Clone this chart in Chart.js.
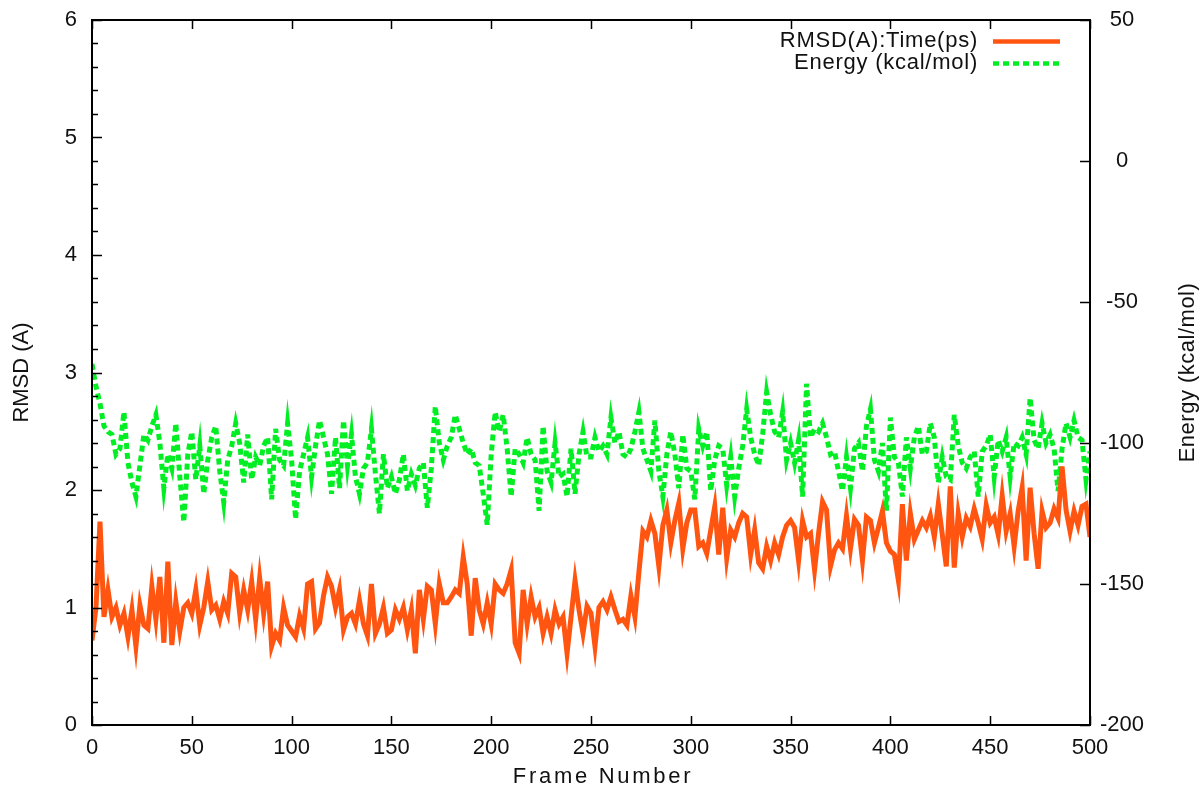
<!DOCTYPE html>
<html>
<head>
<meta charset="utf-8">
<script src="https://cdn.jsdelivr.net/npm/chart.js@4/dist/chart.umd.min.js"></script>
<style>
  html, body { margin: 0; padding: 0; background: #fff; }
  #wrap { width: 1203px; height: 795px; position: relative; }
</style>
</head>
<body>
<div id="wrap"><canvas id="myChart"></canvas></div>
<script>
// frame numbers, one value every 2 frames (0..500)
const FRAME_STEP = 2;
const frames = Array.from({ length: 251 }, (_, i) => i * FRAME_STEP);

// RMSD (A), left axis
const rmsd = [
    0.72, 1.0, 1.73, 0.92, 1.15, 0.92, 1.0, 0.85, 0.95, 0.75,
    0.98, 0.67, 1.02, 0.85, 0.82, 1.18, 0.9, 1.26, 0.7, 1.39,
    0.68, 1.05, 0.8, 1.0, 1.04, 0.95, 1.15, 0.85, 1.0, 1.22,
    0.98, 1.02, 0.9, 1.05, 0.95, 1.29, 1.26, 0.95, 1.15, 0.98,
    1.22, 0.9, 1.25, 0.95, 1.22, 0.67, 0.78, 0.72, 1.0, 0.85,
    0.8, 0.75, 0.93, 0.82, 1.2, 1.22, 0.82, 0.87, 1.1, 1.26,
    1.18, 1.0, 1.15,
    0.81, 0.92, 0.95, 0.86, 1.06, 0.86, 0.76, 1.2, 0.78, 0.86,
    1.0, 0.78, 0.81, 0.98, 0.9, 1.0, 0.81, 0.98, 0.61, 1.15,
    0.9, 1.18, 1.15, 0.86, 1.2, 1.04, 1.04, 1.09, 1.15, 1.12,
    1.43, 1.2, 0.76, 1.25, 0.98, 0.86, 1.04, 0.86, 1.2, 1.15,
    1.12, 1.2, 1.32, 0.7, 0.61, 1.15, 0.86, 1.09, 0.92, 1.0,
    0.78, 0.92, 0.78, 0.98, 0.86, 0.92, 0.61, 0.92, 1.23, 0.98,
    0.78, 1.01, 0.95,
    0.67, 1.0, 1.05, 0.98, 1.09, 0.98, 0.88, 0.9, 0.85, 1.1,
    0.92, 1.3, 1.65, 1.6, 1.74, 1.63, 1.35, 1.7, 1.83, 1.55,
    1.74, 1.89, 1.5, 1.72, 1.83, 1.83, 1.52, 1.55, 1.46, 1.66,
    1.86, 1.45, 1.85, 1.42, 1.66, 1.6, 1.72, 1.8, 1.77, 1.45,
    1.66, 1.38, 1.33, 1.52, 1.4, 1.55, 1.45, 1.6, 1.7, 1.74,
    1.68, 1.4, 1.74, 1.6, 1.63, 1.32, 1.63, 1.9, 1.83, 1.35,
    1.49, 1.55,
    1.5, 1.78, 1.5, 1.75, 1.7, 1.4, 1.77, 1.74, 1.55, 1.68,
    1.82, 1.55, 1.48, 1.45, 1.23, 1.88, 1.4, 1.8, 1.58, 1.66,
    1.74, 1.68, 1.78, 1.6, 1.88, 1.62, 1.35, 2.03, 1.34, 1.8,
    1.6, 1.76, 1.69, 1.84, 1.72, 1.58, 1.87, 1.72, 1.77, 1.62,
    1.95, 1.65, 1.8, 1.52, 1.82, 2.02, 1.4, 2.02, 1.63, 1.33,
    1.82, 1.68, 1.72, 1.84, 1.76, 2.2, 1.83, 1.65, 1.82, 1.7,
    1.86, 1.88, 1.6
];

// Energy (kcal/mol), right axis
const energy = [
    -72, -80, -86, -94, -96, -97, -104, -102, -89, -107,
    -114, -119, -108, -97, -99, -94, -90, -100, -116, -104,
    -109, -93, -112, -128, -104, -96, -113, -101, -118, -106,
    -98, -94, -110, -121, -106, -101, -93, -100, -114, -97,
    -113, -105, -108, -101, -98, -120, -95, -106, -108, -93,
    -106, -127, -110, -104, -98, -112, -101, -92, -98, -104,
    -118, -98, -116,
    -92, -108, -97, -112, -118, -109, -107, -95, -111, -125,
    -104, -116, -112, -118, -113, -104, -117, -111, -115, -109,
    -107, -123, -109, -87, -100, -106, -101, -98, -90, -95,
    -100, -104, -102, -107, -108, -118, -129, -104, -89, -96,
    -90, -102, -119, -102, -104, -107, -98, -104, -106, -124,
    -94, -110, -114, -100, -112, -111, -119, -102, -118, -104,
    -96, -105, -105,
    -98, -103, -101, -104, -91, -100, -96, -104, -105, -102,
    -96, -89, -102, -106, -110, -92, -110, -119, -104, -96,
    -104, -116, -97, -109, -110, -120, -95, -101, -96, -117,
    -106, -101, -102, -115, -105, -119, -109, -101, -88, -98,
    -104, -108, -97, -82, -90, -96, -98, -89, -106, -100,
    -107, -99, -119, -79, -98, -95, -96, -93, -98, -104,
    -103, -110,
    -117, -105, -116, -102, -100, -110, -94, -88, -106, -110,
    -100, -124, -91, -105, -107, -119, -98, -109, -98, -94,
    -104, -103, -93, -98, -114, -105, -112, -113, -90, -101,
    -107, -109, -105, -103, -119, -103, -101, -97, -112, -99,
    -103, -98, -112, -100, -101, -98, -104, -84, -99, -102,
    -93, -100, -97, -102, -117, -102, -93, -98, -92, -98,
    -99, -113, -103
];

const seriesLabels = ['RMSD(A):Time(ps)', 'Energy (kcal/mol)'];
const xTitle = 'Frame Number';
const yTitle = 'RMSD (A)';
const y2Title = 'Energy (kcal/mol)';

const FONT = '"Liberation Sans", Arial, sans-serif';
const INK = '#111';
const ORANGE = '#ff5511';
const GREEN = '#00ee22';

// gnuplot style frame: full box, inward ticks, key in top right, titles
const gnuFrame = {
    id: 'gnuFrame',
    afterDatasetsDraw(chart) {
        const { ctx, chartArea: a, scales } = chart;
        ctx.save();
        ctx.strokeStyle = '#000';
        ctx.lineWidth = 2;
        ctx.strokeRect(a.left, a.top, a.right - a.left, a.bottom - a.top);

        ctx.lineWidth = 1.5;
        ctx.beginPath();
        scales.x.ticks.forEach(t => {
            const px = Math.round(scales.x.getPixelForValue(t.value)) + 0.5;
            ctx.moveTo(px, a.bottom); ctx.lineTo(px, a.bottom - 9);
            ctx.moveTo(px, a.top); ctx.lineTo(px, a.top + 9);
        });
        // left axis: major every 1, minor every 0.2
        for (let i = 0; i <= 30; i++) {
            const py = Math.round(scales.y.getPixelForValue(i * 0.2)) + 0.5;
            const len = i % 5 === 0 ? 10 : 6;
            ctx.moveTo(a.left, py); ctx.lineTo(a.left + len, py);
        }
        scales.y2.ticks.forEach(t => {
            const py = Math.round(scales.y2.getPixelForValue(t.value)) + 0.5;
            ctx.moveTo(a.right, py); ctx.lineTo(a.right - 10, py);
        });
        ctx.stroke();
        ctx.restore();
    },
    afterDraw(chart) {
        const { ctx, chartArea: a } = chart;
        ctx.save();
        ctx.font = '22px ' + FONT;
        ctx.fillStyle = INK;

        // key
        ctx.letterSpacing = '0.75px';
        const rows = [a.top + 21, a.top + 43];
        chart.data.datasets.forEach((ds, i) => {
            ctx.textAlign = 'right';
            ctx.textBaseline = 'middle';
            ctx.fillText(ds.label, a.right - 112, rows[i]);
            ctx.strokeStyle = ds.borderColor;
            ctx.lineWidth = 4.5;
            ctx.setLineDash(ds.borderDash || []);
            ctx.beginPath();
            ctx.moveTo(a.right - 97, rows[i] + 0.5);
            ctx.lineTo(a.right - 30, rows[i] + 0.5);
            ctx.stroke();
        });
        ctx.setLineDash([]);

        // x axis title, spaced out like the original
        ctx.letterSpacing = '2.7px';
        ctx.textAlign = 'center';
        ctx.textBaseline = 'middle';
        ctx.fillText(xTitle, 603, 777);

        // right axis title, reads bottom to top
        ctx.letterSpacing = '0.5px';
        ctx.translate(1188, (a.top + a.bottom) / 2);
        ctx.rotate(-Math.PI / 2);
        ctx.fillText(y2Title, 0, 0);
        ctx.restore();
    }
};

// fixed box sizes so the plot area sits where the original has it
function noEdgePad(scale) {
    scale.paddingTop = 0;
    scale.paddingBottom = 0;
    scale.paddingLeft = 0;
    scale.paddingRight = 0;
}

document.addEventListener('DOMContentLoaded', () => {
    const ctx = document.getElementById('myChart').getContext('2d');
    const tickFont = { family: FONT, size: 22 };

    window.myGraph = new Chart(ctx, {
        type: 'line',
        data: {
            datasets: [
                {
                    label: seriesLabels[0],
                    data: frames.map((f, i) => ({ x: f, y: rmsd[i] })),
                    yAxisID: 'y',
                    borderColor: ORANGE,
                    borderWidth: 5,
                    pointRadius: 0,
                    tension: 0,
                    fill: false
                },
                {
                    label: seriesLabels[1],
                    data: frames.map((f, i) => ({ x: f, y: energy[i] })),
                    yAxisID: 'y2',
                    borderColor: GREEN,
                    borderWidth: 5,
                    borderDash: [6, 4],
                    pointRadius: 0,
                    tension: 0,
                    fill: false
                }
            ]
        },
        options: {
            responsive: true,
            maintainAspectRatio: false,
            animation: false,
            layout: { padding: { top: 20, left: 0, right: 0, bottom: 0 } },
            scales: {
                x: {
                    type: 'linear',
                    min: 0,
                    max: 500,
                    grid: { display: false, drawTicks: false },
                    border: { display: false },
                    ticks: { stepSize: 50, padding: 10, color: INK, font: tickFont, maxRotation: 0 },
                    title: { display: false, text: xTitle },
                    afterFit(scale) { scale.height = 70; noEdgePad(scale); }
                },
                y: {
                    position: 'left',
                    min: 0,
                    max: 6,
                    grid: { display: false, drawTicks: false },
                    border: { display: false },
                    ticks: { stepSize: 1, padding: 15, color: INK, font: tickFont },
                    title: { display: true, text: yTitle, color: INK, font: tickFont, padding: { top: 9, bottom: 0 } },
                    afterFit(scale) { scale.width = 92; noEdgePad(scale); }
                },
                y2: {
                    position: 'right',
                    min: -200,
                    max: 50,
                    grid: { display: false, drawTicks: false },
                    border: { display: false },
                    ticks: { stepSize: 50, padding: 10, crossAlign: 'center', color: INK, font: tickFont },
                    afterFit(scale) { scale.width = 113; noEdgePad(scale); }
                }
            },
            plugins: {
                legend: { display: false },
                tooltip: { enabled: false }
            }
        },
        plugins: [gnuFrame]
    });
});
</script>
</body>
</html>
